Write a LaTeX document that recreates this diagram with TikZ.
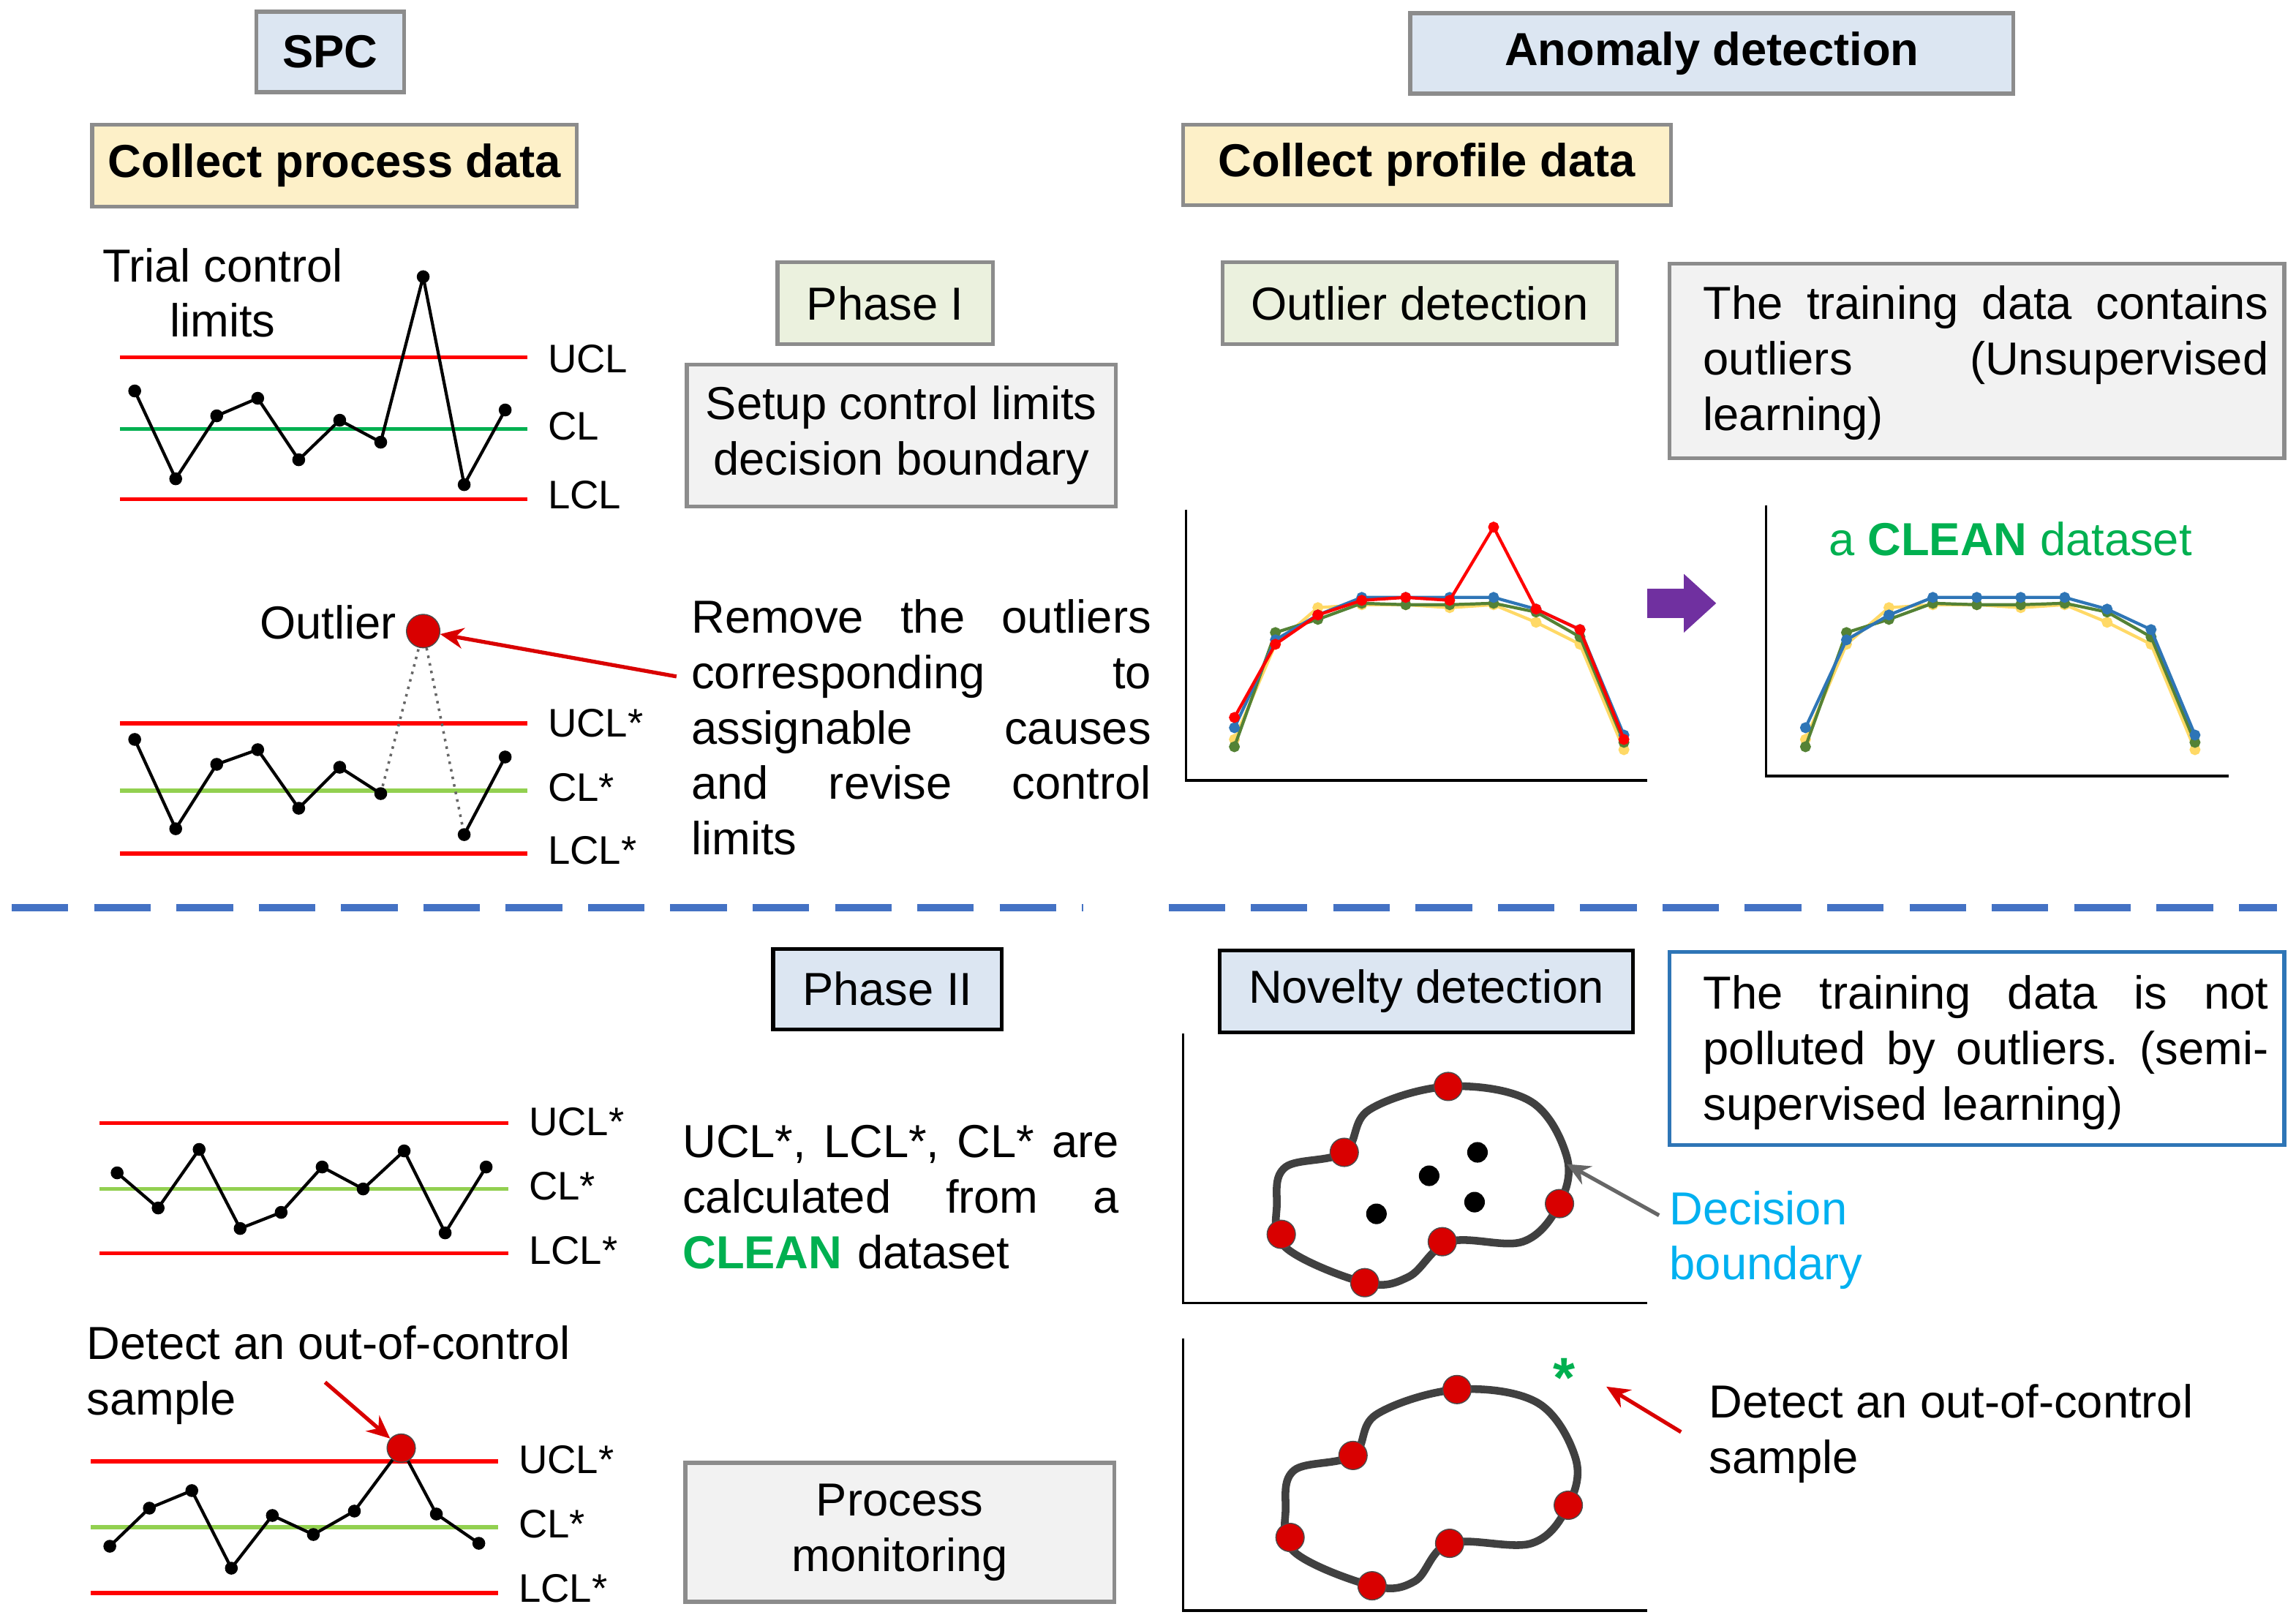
\documentclass[tikz,border=0pt]{standalone}
\usepackage{fontspec}
\setmainfont{Liberation Sans}
\usetikzlibrary{arrows.meta}
\definecolor{lblue}{HTML}{DCE6F2}
\definecolor{lyel}{HTML}{FDF0C8}
\definecolor{lgreen}{HTML}{EBF1DE}
\definecolor{lgray}{HTML}{F2F2F2}
\definecolor{bordg}{HTML}{8C8C8C}
\definecolor{cred}{HTML}{FF0000}
\definecolor{cgreen}{HTML}{00B050}
\definecolor{lgr}{HTML}{92D050}
\definecolor{dblue}{HTML}{4472C4}
\definecolor{cyan2}{HTML}{00B0F0}
\definecolor{pblue}{HTML}{2E75B6}
\definecolor{dgray}{HTML}{404040}
\definecolor{pyel}{HTML}{FFD966}
\definecolor{pgrn}{HTML}{548235}
\definecolor{pbl}{HTML}{2E75B6}
\definecolor{purp}{HTML}{7030A0}
\begin{document}
\begin{tikzpicture}[x=0.02cm,y=-0.02cm,
 box/.style={draw=bordg,line width=1.5pt,inner sep=0pt,align=center},
 txt/.style={font=\fontsize{18}{21.6}\selectfont},
 btxt/.style={font=\fontsize{18}{21.6}\selectfont\bfseries},
 lab/.style={font=\fontsize{15.5}{18}\selectfont,anchor=west},
 redl/.style={cred,line width=1.6pt},
 grl/.style={cgreen,line width=1.6pt},
 lgl/.style={lgr,line width=1.6pt},
 dat/.style={line width=1.2pt},
 dot/.style={circle,fill=black,inner sep=0pt,minimum size=5pt},
 rdot/.style={circle,fill=cred!85!black,draw=black!70,inner sep=0pt,minimum size=11pt},
 bdot/.style={circle,fill=black,inner sep=0pt,minimum size=8pt},
 blob/.style={dgray,line width=3pt},
 arr/.style={-{Stealth[length=9pt,width=8pt]},line width=1.5pt}]
\useasboundingbox (0,0) rectangle (1568,1108);
% headers
\node[box,fill=lblue,minimum width=101*0.02cm,minimum height=55*0.02cm,btxt] (spc) at (225.5,35.5) {SPC};
\node[box,fill=lblue,minimum width=412*0.02cm,minimum height=55*0.02cm,btxt] (ad) at (1169,36.5) {Anomaly detection};
\node[box,fill=lyel,minimum width=331*0.02cm,minimum height=56*0.02cm,btxt] (cpd) at (228.5,113) {Collect process data};
\node[box,fill=lyel,minimum width=333*0.02cm,minimum height=55*0.02cm,btxt] (cpf) at (974.5,112.5) {Collect profile data};
\node[box,fill=lgreen,minimum width=147*0.02cm,minimum height=56*0.02cm,txt] (p1) at (604.5,207) {Phase I};
\node[box,fill=lgray,minimum width=293*0.02cm,minimum height=97*0.02cm,txt] (setup) at (615.5,297.5) {Setup control limits\\decision boundary};
\node[box,fill=lgreen,minimum width=269*0.02cm,minimum height=56*0.02cm,txt] (od) at (969.5,207) {Outlier detection};
\node[box,fill=lgray,minimum width=420*0.02cm,minimum height=133*0.02cm] (tr1) at (1350,246.5) {};
\node[txt,anchor=north west,text width=386*0.02cm,align=left] (tr1t) at (1157,189) {The\hfill training\hfill data\hfill contains\\outliers\hfill (Unsupervised\\learning)};
% chart 1
\node[txt,align=center] (trial) at (152,200) {Trial control\\limits};
\draw[redl] (82,244) -- (360,244); \draw[grl] (82,293) -- (360,293); \draw[redl] (82,341) -- (360,341);
\node[lab] (u1) at (368,245) {UCL}; \node[lab] (c1) at (368,291) {CL}; \node[lab] (l1) at (368,338) {LCL};
\draw[dat] plot coordinates {(92,267)(120,327)(148,284)(176,272)(204,314)(232,287)(260,302)(289,189)(317,331)(345,280)};
\foreach \p in {(92,267),(120,327),(148,284),(176,272),(204,314),(232,287),(260,302),(289,189),(317,331),(345,280)} \node[dot] at \p {};
% chart 2
\node[txt] (outl) at (224,425) {Outlier};
\draw[redl] (82,494) -- (360,494); \draw[lgl] (82,540) -- (360,540); \draw[redl] (82,583) -- (360,583);
\node[lab] (u2) at (368,494) {UCL*}; \node[lab] (c2) at (368,538) {CL*}; \node[lab] (l2) at (368,581) {LCL*};
\draw[dat] plot coordinates {(92,505)(120,566)(148,522)(176,512)(204,552)(232,524)(260,542)};
\draw[dotted,line width=1pt,black!60] (260,542) -- (289,431) -- (317,570);
\draw[dat] (317,570) -- (345,517);
\foreach \p in {(92,505),(120,566),(148,522),(176,512),(204,552),(232,524),(260,542),(317,570),(345,517)} \node[dot] at \p {};
\node[rdot,minimum size=13pt] (od1) at (289,431) {};
\coordinate (ra) at (462,462);
\draw[arr,cred!85!black] (ra) -- (od1);
\node[txt,anchor=north west,text width=314*0.02cm,align=left] (rem) at (466,403) {Remove\hfill the\hfill outliers\\corresponding\hfill to\\assignable\hfill causes\\and\hfill revise\hfill control\\limits};
% profile charts
\draw[line width=1pt] (810,348) -- (810,533) -- (1125,533);
\draw[line width=1pt] (1206,345) -- (1206,530) -- (1522,530);
\foreach \dx/\pl in {0/1,390/0}{
 \begin{scope}[xshift=\dx*0.02cm]
 \draw[pyel,dat] plot[mark=*,mark size=1.5pt] coordinates {(843,505)(871,440)(900,415)(930,413)(960,413)(990,415)(1020,413)(1049,425)(1079,440)(1109,512)};
 \draw[pgrn,dat] plot[mark=*,mark size=1.5pt] coordinates {(843,510)(871,432)(900,423)(930,412)(960,413)(990,413)(1020,412)(1049,418)(1079,435)(1109,507)};
 \draw[pbl,dat] plot[mark=*,mark size=1.5pt] coordinates {(843,497)(871,437)(900,420)(930,408)(960,408)(990,408)(1020,408)(1049,416)(1079,430)(1109,502)};
 \ifnum\pl=1
 \draw[cred,dat] plot[mark=*,mark size=1.5pt] coordinates {(843,490)(871,440)(900,420)(930,410)(960,408)(990,410)(1020,360)(1049,416)(1079,430)(1109,505)};
 \fi
 \end{scope}}
\fill[purp] (1125,402) -- (1150,402) -- (1150,392) -- (1172,412) -- (1150,432) -- (1150,422) -- (1125,422) -- cycle;
\node[txt,text=cgreen] (clean) at (1373,368) {a \textbf{CLEAN} dataset};
% dashed separator
\draw[dblue,line width=3pt,dash pattern=on 22pt off 10pt] (8,620) -- (740,620);
\draw[dblue,line width=3pt,dash pattern=on 22pt off 10pt] (798,620) -- (1555,620);
% phase II
\node[box,draw=black,fill=lblue,minimum width=156*0.02cm,minimum height=55*0.02cm,txt] (p2) at (606,675.5) {Phase II};
\node[box,draw=black,fill=lblue,minimum width=282*0.02cm,minimum height=56*0.02cm,txt] (nd) at (974,677) {Novelty detection};
\node[box,draw=pblue,fill=white,minimum width=420*0.02cm,minimum height=132*0.02cm] (tr2) at (1350,716) {};
\node[txt,anchor=north west,text width=386*0.02cm,align=left] (tr2t) at (1157,660) {The\hfill training\hfill data\hfill is\hfill not\\polluted\hfill by\hfill outliers.\hfill (semi-\\supervised learning)};
% chart 3
\draw[redl] (68,767) -- (347,767); \draw[lgl] (68,812) -- (347,812); \draw[redl] (68,856) -- (347,856);
\node[lab] (u3) at (355,766) {UCL*}; \node[lab] (c3) at (355,810) {CL*}; \node[lab] (l3) at (355,854) {LCL*};
\draw[dat] plot coordinates {(80,801)(108,825)(136,785)(164,839)(192,828)(220,797)(248,812)(276,786)(304,842)(332,797)};
\foreach \p in {(80,801),(108,825),(136,785),(164,839),(192,828),(220,797),(248,812),(276,786),(304,842),(332,797)} \node[dot] at \p {};
\node[txt,anchor=north west,text width=298*0.02cm,align=left] (calc) at (460,762) {UCL*,\hfill LCL*,\hfill CL*\hfill are\\calculated\hfill from\hfill a\\{\color{cgreen}\bfseries CLEAN} dataset};
% novelty chart
\draw[line width=1pt] (808,706) -- (808,890) -- (1125,890);
\draw[blob] plot[smooth cycle,tension=0.6] coordinates {(878,797)(918,787)(935,758)(989,742)(1045,752)(1070,790)(1065,822)(1040,848)(990,848)(962,872)(932,876)(878,852)(872,822)};
\foreach \p in {(989,742),(918,787),(1065,822),(875,843),(985,848),(932,876)} \node[rdot] at \p {};
\foreach \p in {(1009,787),(976,803),(1007,821),(940,829)} \node[bdot] at \p {};
\coordinate (dbp) at (1070,795);
\node[txt,text=cyan2,align=left,anchor=west] (db) at (1134,847) {Decision\\boundary};
\draw[arr,black!60] (1133,830) -- (dbp);
% novelty chart 2
\draw[line width=1pt] (808,914) -- (808,1100) -- (1125,1100);
\draw[blob] plot[smooth cycle,tension=0.6] coordinates {(884,1004)(924,994)(940,966)(995,949)(1050,958)(1076,996)(1071,1028)(1046,1054)(990,1054)(966,1080)(937,1083)(884,1060)(878,1030)};
\foreach \p in {(995,949),(924,994),(1071,1028),(881,1050),(990,1054),(937,1083)} \node[rdot] at \p {};
\node[text=cgreen,font=\fontsize{22}{22}\selectfont\bfseries] (star) at (1068,941) {*};
\node[txt,anchor=west,align=left] (det2) at (1161,979) {Detect an out-of-control\\sample};
\draw[arr,cred!85!black] (1148,978) -- (1097,947);
% chart 4
\node[txt,anchor=west,align=left] (det1) at (53,939) {Detect an out-of-control\\sample};
\draw[redl] (62,998) -- (340,998); \draw[lgl] (62,1043) -- (340,1043); \draw[redl] (62,1088) -- (340,1088);
\node[lab] (u4) at (348,997) {UCL*}; \node[lab] (c4) at (348,1041) {CL*}; \node[lab] (l4) at (348,1085) {LCL*};
\draw[dat] plot coordinates {(75,1056)(102,1030)(131,1018)(158,1071)(186,1035)(214,1048)(242,1032)(274,989)(298,1034)(327,1054)};
\foreach \p in {(75,1056),(102,1030),(131,1018),(158,1071),(186,1035),(214,1048),(242,1032),(298,1034),(327,1054)} \node[dot] at \p {};
\node[rdot] (oc) at (274,989) {};
\draw[arr,cred!85!black] (222,944) -- (oc);
\node[box,fill=lgray,minimum width=293*0.02cm,minimum height=95*0.02cm,txt] (pm) at (614.5,1046.5) {Process\\monitoring};
\end{tikzpicture}
\end{document}
